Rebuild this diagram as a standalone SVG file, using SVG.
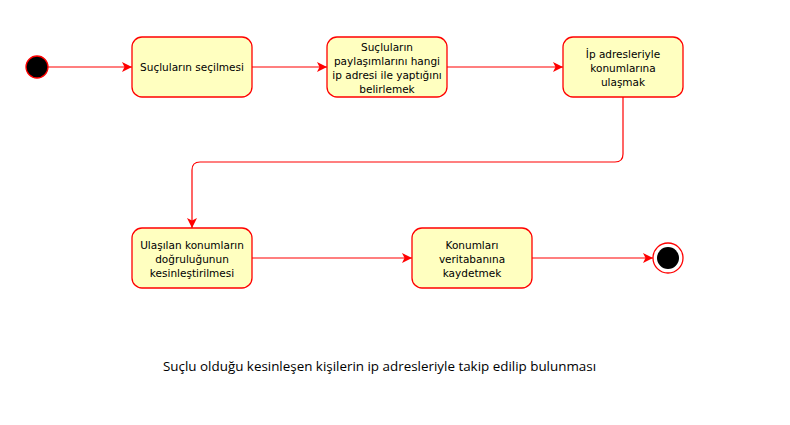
<svg xmlns="http://www.w3.org/2000/svg" width="790" height="425" viewBox="0 0 790 425">
<defs>
<marker id="arr" viewBox="0 0 10 10" refX="10" refY="5" markerWidth="10" markerHeight="10" markerUnits="userSpaceOnUse" orient="auto">
<path d="M0,0 L10,5 L0,10 L2.5,5 Z" fill="#ff0000"/>
</marker>
<style>
.box{fill:#ffffc0;stroke:#ff0000;stroke-width:1.3}
.t{font-family:"DejaVu Sans",Verdana,sans-serif;font-size:10.5px;fill:#000;text-anchor:middle}
.c{fill:none;stroke:#ff0000;stroke-width:1.2;marker-end:url(#arr)}
.cap{font-family:"Open Sans","Liberation Sans",sans-serif;font-size:13.4px;fill:#000}
</style>
</defs>
<rect width="790" height="425" fill="#ffffff"/>
<g id="connectors">
<path class="c" d="M48,67 L132,67"/>
<path class="c" d="M252,67 L327,67"/>
<path class="c" d="M447,67 L563,67"/>
<path class="c" d="M623,97 L623,154 Q623,162 615,162 L200,162 Q192,162 192,170 L192,228"/>
<path class="c" d="M252,258 L412,258"/>
<path class="c" d="M532,258 L653,258"/>
</g>
<g id="start"><circle cx="37" cy="67" r="11" fill="#000" stroke="#ff0000" stroke-width="1.3"/></g>
<g id="n1"><rect class="box" x="132" y="37" width="120" height="60" rx="10"/>
<text class="t" x="192" y="71">Suçluların seçilmesi</text></g>
<g id="n2"><rect class="box" x="327" y="37" width="120" height="60" rx="10"/>
<text class="t" x="387" y="51">Suçluların</text>
<text class="t" x="387" y="65">paylaşımlarını hangi</text>
<text class="t" x="387" y="79">ip adresi ile yaptığını</text>
<text class="t" x="387" y="93">belirlemek</text></g>
<g id="n3"><rect class="box" x="563" y="37" width="120" height="60" rx="10"/>
<text class="t" x="623" y="58">İp adresleriyle</text>
<text class="t" x="623" y="72">konumlarına</text>
<text class="t" x="623" y="86">ulaşmak</text></g>
<g id="n4"><rect class="box" x="132" y="228" width="120" height="60" rx="10"/>
<text class="t" x="192" y="249">Ulaşılan konumların</text>
<text class="t" x="192" y="263">doğruluğunun</text>
<text class="t" x="192" y="277">kesinleştirilmesi</text></g>
<g id="n5"><rect class="box" x="412" y="228" width="120" height="60" rx="10"/>
<text class="t" x="472" y="249">Konumları</text>
<text class="t" x="472" y="263">veritabanına</text>
<text class="t" x="472" y="277">kaydetmek</text></g>
<g id="end"><circle cx="668" cy="258" r="15" fill="#fff" stroke="#ff0000" stroke-width="1.3"/>
<circle cx="668" cy="258" r="11" fill="#000"/></g>
<text class="cap" x="163" y="371">Suçlu olduğu kesinleşen kişilerin ip adresleriyle takip edilip bulunması</text>
</svg>
